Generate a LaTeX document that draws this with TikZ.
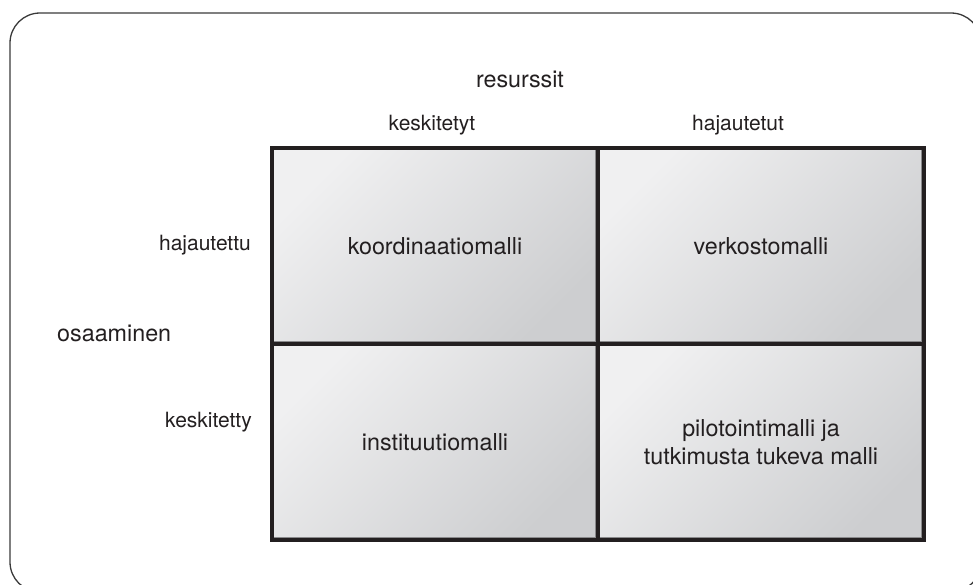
\documentclass[tikz,border=0pt]{standalone}
\usepackage{fontspec}
\setmainfont{TeX Gyre Heros}
\definecolor{ink}{HTML}{231F20}
\definecolor{framec}{HTML}{3A3A3A}
\definecolor{clight}{HTML}{F0F0F1}
\definecolor{cdark}{HTML}{CDCED0}
\definecolor{cedge}{HTML}{8A8A8C}
\begin{document}
\begin{tikzpicture}[x=1pt,y=-1pt,
  cell/.style={minimum width=326pt, minimum height=196pt, inner sep=0pt,
    top color=clight, bottom color=cdark, shading angle=45,
    text=ink, align=center, font=\fontsize{23.3}{28}\selectfont},
  head/.style={anchor=base, text=ink, inner sep=0pt, font=\fontsize{21}{26}\selectfont},
  axis/.style={anchor=base, text=ink, inner sep=0pt, font=\fontsize{23.3}{28}\selectfont},
  gridline/.style={draw=ink, line width=4pt},
  edgeline/.style={draw=cedge, line width=0.9pt}]
\useasboundingbox (0,0) rectangle (973,584);
\begin{scope}
  \clip (0,0) rectangle (973,584);
  \draw[framec, line width=1.3pt, rounded corners=30pt] (10,13) rectangle (981,592);
\end{scope}
% cells
\node[cell] (c11) at (435,246) {koordinaatiomalli};
\node[cell] (c12) at (761,246) {verkostomalli};
\node[cell] (c21) at (435,442) {instituutiomalli};
\node[cell] (c22) at (761,442) {pilotointimalli ja\\tutkimusta tukeva malli};
% inner grey edges
\foreach \c in {c11,c12,c21,c22}{
  \draw[edgeline] ([xshift=-2.6pt]\c.north east) -- ([xshift=-2.6pt,yshift=2.6pt]\c.south east)
                  -- ([yshift=2.6pt]\c.south west);
}
% grid
\draw[gridline] (c11.north west) rectangle (c22.south east);
\draw[gridline] (c11.north east) -- (c21.south east);
\draw[gridline] (c11.south west) -- (c12.south east);
% labels
\node[axis] (res) at (520,87) {resurssit};
\node[head] (kt) at (432,130) {keskitetyt};
\node[head] (ht) at (738,130) {hajautetut};
\node[head, anchor=base east] (hu) at (251,250) {hajautettu};
\node[axis, anchor=base west] (os) at (57,341) {osaaminen};
\node[head, anchor=base east] (ky) at (252,427) {keskitetty};
\end{tikzpicture}
\end{document}
